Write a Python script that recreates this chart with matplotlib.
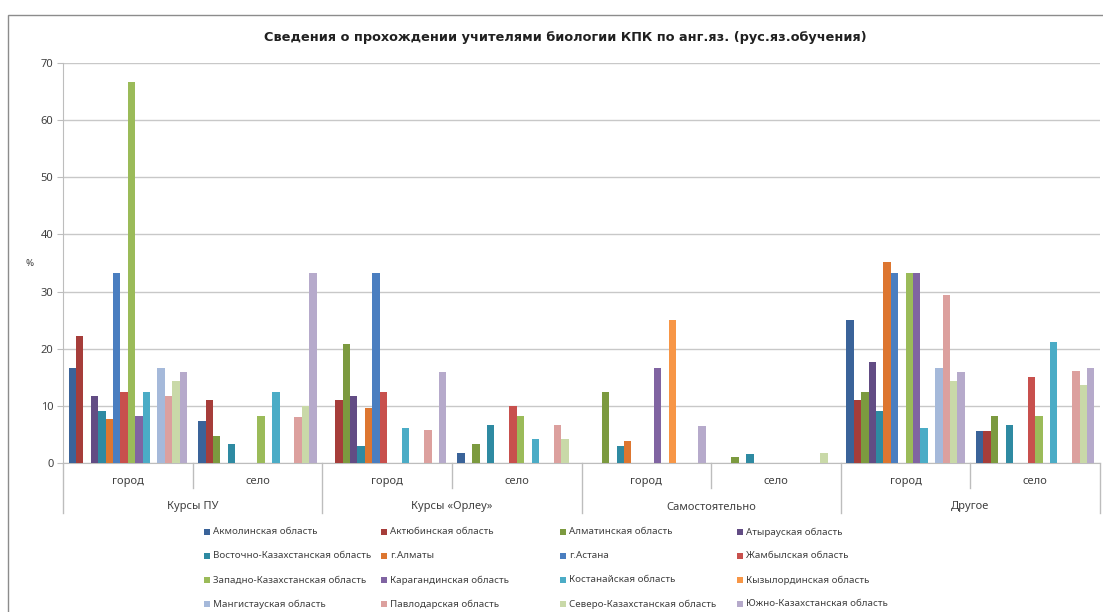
import numpy as np
import matplotlib
matplotlib.use('Agg')
import matplotlib.pyplot as plt
from matplotlib.patches import Rectangle

plt.rcParams['font.family'] = ['Noto Sans', 'DejaVu Sans']

# categories (two-level axis)
sub_labels = ['город', 'село'] * 4
group_labels = ['Курсы ПУ', 'Курсы «Орлеу»', 'Самостоятельно', 'Другое']

regions = ['Акмолинская область', 'Актюбинская область', 'Алматинская область', 'Атырауская область',
           'Восточно-Казахстанская область', 'г.Алматы', 'г.Астана', 'Жамбылская область',
           'Западно-Казахстанская область', 'Карагандинская область', 'Костанайская область',
           'Кызылординская область', 'Мангистауская область', 'Павлодарская область',
           'Северо-Казахстанская область', 'Южно-Казахстанская область']

# values, % (ПУ город, ПУ село, Орлеу город, Орлеу село, Сам. город, Сам. село, Другое город, Другое село)
akmola = [16.7, 7.3, 0, 1.8, 0, 0, 25.0, 5.6]
aktobe = [22.2, 11.0, 11.0, 0, 0, 0, 11.1, 5.6]
almaty_obl = [0, 4.7, 20.8, 3.4, 12.5, 1.0, 12.5, 8.3]
atyrau = [11.7, 0, 11.7, 0, 0, 0, 17.6, 0]
vko = [9.1, 3.3, 2.9, 6.7, 3.0, 1.6, 9.1, 6.7]
almaty = [7.7, 0, 9.7, 0, 3.8, 0, 35.1, 0]
astana = [33.3, 0, 33.3, 0, 0, 0, 33.3, 0]
zhambyl = [12.5, 0, 12.5, 10.0, 0, 0, 0, 15.0]
zko = [66.7, 8.3, 0, 8.3, 0, 0, 33.3, 8.3]
karaganda = [8.3, 0, 0, 0, 16.7, 0, 33.3, 0]
kostanay = [12.5, 12.5, 6.1, 4.2, 0, 0, 6.1, 21.2]
kyzylorda = [0, 0, 0, 0, 25.0, 0, 0, 0]
mangistau = [16.7, 0, 0, 0, 0, 0, 16.7, 0]
pavlodar = [11.7, 8.0, 5.8, 6.7, 0, 0, 29.4, 16.1]
sko = [14.3, 10.0, 0, 4.2, 0, 1.8, 14.3, 13.6]
yuko = [16.0, 33.3, 15.9, 0, 6.4, 0, 16.0, 16.7]

series = [akmola, aktobe, almaty_obl, atyrau, vko, almaty, astana, zhambyl,
          zko, karaganda, kostanay, kyzylorda, mangistau, pavlodar, sko, yuko]

colors = ['#3A6399', '#A63D3A', '#7C9A3F', '#624C84', '#2E8AA2', '#DD7630',
          '#4A7EC0', '#C8504D', '#9BBB59', '#8064A2', '#4BACC6', '#F79646',
          '#A5B9DA', '#DCA09E', '#C9D9A8', '#B6AACB']

W, H = 1103, 612
fig = plt.figure(figsize=(W / 100, H / 100), dpi=100)
ax = fig.add_axes([63 / W, 1 - 463 / H, (1100 - 63) / W, 400 / H])

x = np.arange(len(sub_labels))
bw = 1 / 17.5
for i, (vals, c) in enumerate(zip(series, colors)):
    ax.bar(x + (i - 7.5) * bw, vals, width=bw, color=c, linewidth=0, zorder=3)

ax.set_xlim(-0.5, 7.5)
ax.set_ylim(0, 70)
ax.set_yticks(range(0, 71, 10))
ax.yaxis.grid(True, color='#c8c8c8', linewidth=1, zorder=0)
ax.set_xticks([])
for s in ['top', 'right']:
    ax.spines[s].set_visible(False)
ax.spines['left'].set_color('#bdbdbd')
ax.spines['bottom'].set_color('#bdbdbd')
ax.tick_params(axis='y', length=4, color='#bdbdbd', labelsize=8, labelcolor='#404040', pad=3)

# two-level category axis
tr = ax.get_xaxis_transform()
for k in range(9):
    xx = k - 0.5
    y1 = -0.125 if k % 2 == 0 else -0.0625
    ax.plot([xx, xx], [0, y1], transform=tr, color='#bdbdbd', lw=1, clip_on=False)
for k, lab in enumerate(sub_labels):
    ax.text(k, -0.047, lab, transform=tr, ha='center', va='center', fontsize=8, color='#404040')
for k, lab in enumerate(group_labels):
    ax.text(2 * k + 0.5, -0.11, lab, transform=tr, ha='center', va='center', fontsize=8, color='#404040')

fig.text(30 / W, 1 - 263 / H, '%', ha='center', va='center', fontsize=7, color='#404040')
fig.text(565 / W, 1 - 38 / H, 'Сведения о прохождении учителями биологии КПК по анг.яз. (рус.яз.обучения)',
         ha='center', va='center', fontsize=9.3, fontweight='bold', color='#202020',
         family=['DejaVu Sans'])

# legend, 4 columns filled row by row
col_x = [207, 384, 563, 740]
row_y = [532, 556, 580, 604]
for i, (name, c) in enumerate(zip(regions, colors)):
    cx = col_x[i % 4]
    cy = row_y[i // 4]
    fig.add_artist(Rectangle(((cx - 3) / W, 1 - (cy + 3) / H), 6 / W, 6 / H,
                             transform=fig.transFigure, color=c, lw=0))
    fig.text((cx + 6) / W, 1 - cy / H, name, ha='left', va='center', fontsize=7, color='#404040')

# outer chart border
fig.add_artist(Rectangle((8 / W, -0.2), 1.2, 1.2 - 15 / H, transform=fig.transFigure,
                         fill=False, edgecolor='#8c8c8c', lw=1))

fig.savefig('out.png', dpi=100)
